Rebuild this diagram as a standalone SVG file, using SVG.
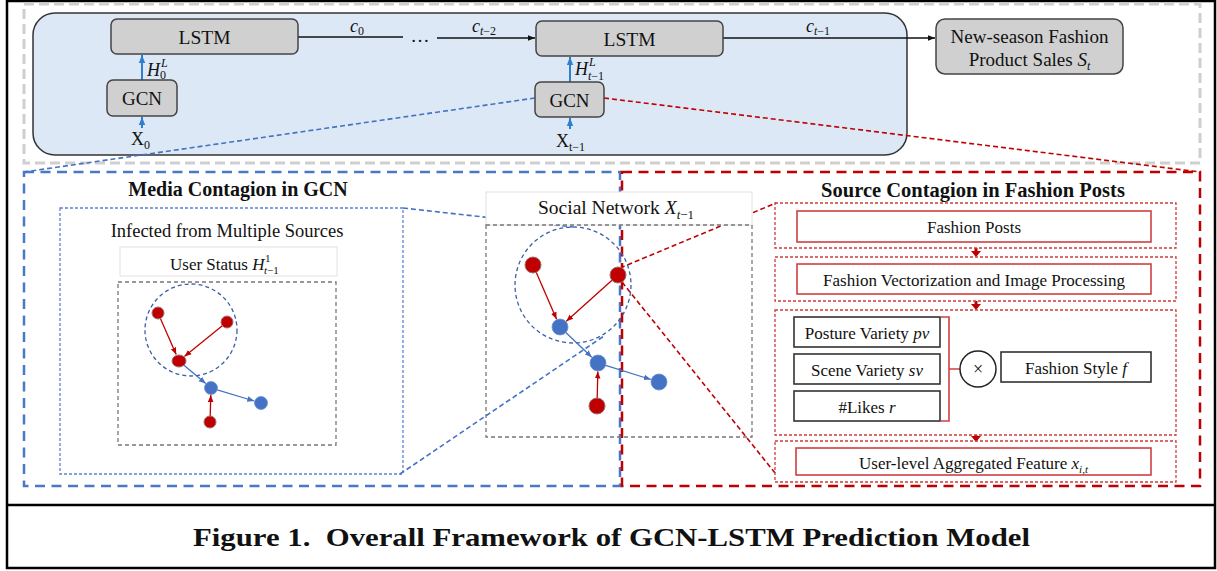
<svg xmlns="http://www.w3.org/2000/svg" width="1217" height="571" viewBox="0 0 1217 571">
  <defs>
    <style>
      .serif { font-family: "Liberation Serif", "Times New Roman", serif; fill: #111; }
      .math { font-family: "Liberation Serif", "Times New Roman", serif; font-style: italic; fill: #111; }
      .box { fill: #d0d0d0; stroke: #444; stroke-width: 1.5; }
      .frame { fill: none; stroke: #000; stroke-width: 2.5; }
      .gray-dash { fill: none; stroke: #cfcfcf; stroke-width: 3; stroke-dasharray: 10 5; }
      .blue-dash { fill: none; stroke: #4a78c8; stroke-width: 2.5; stroke-dasharray: 10 6.5; }
      .red-dash { fill: none; stroke: #c00000; stroke-width: 2.5; stroke-dasharray: 10 6.5; }
      .blue-dot { fill: none; stroke: #5b84cf; stroke-width: 1.3; stroke-dasharray: 3 2; }
      .red-dot { fill: none; stroke: #d03a3a; stroke-width: 1.3; stroke-dasharray: 3 2; }
      .blue-link { fill: none; stroke: #4472c4; stroke-width: 1.6; stroke-dasharray: 5 3; }
      .red-link { fill: none; stroke: #c00000; stroke-width: 1.6; stroke-dasharray: 5 3; }
      .net-box { fill: none; stroke: #777; stroke-width: 1.3; stroke-dasharray: 4 3; }
      .ring { fill: none; stroke: #3b5ea8; stroke-width: 1.3; stroke-dasharray: 4 3; }
      .red-node { fill: #c00000; stroke: #9a7070; stroke-width: 1; }
      .blue-node { fill: #4472c4; stroke: #6f8fcf; stroke-width: 0.8; }
      .red-edge { stroke: #c00000; stroke-width: 1.3; fill: none; }
      .blue-edge { stroke: #4472c4; stroke-width: 1.3; fill: none; }
      .flow { stroke: #111; stroke-width: 1.6; fill: none; }
      .up { stroke: #2f7fcf; stroke-width: 2; fill: none; }
      .red-box { fill: #fff; stroke: #d04040; stroke-width: 1.6; }
      .black-box { fill: #fff; stroke: #333; stroke-width: 1.6; }
      .light-box { fill: #fff; stroke: #e2e2e2; stroke-width: 1; }
    </style>
    <marker id="ah-black" viewBox="0 0 10 10" refX="10" refY="5" markerWidth="7" markerHeight="7" markerUnits="userSpaceOnUse" orient="auto">
      <path d="M0,1 L10,5 L0,9 z" fill="#111"/>
    </marker>
    <marker id="ah-up" viewBox="0 0 10 10" refX="10" refY="5" markerWidth="8" markerHeight="8" markerUnits="userSpaceOnUse" orient="auto">
      <path d="M0,1 L10,5 L0,9 z" fill="#2f7fcf"/>
    </marker>
    <marker id="ah-red" viewBox="0 0 10 10" refX="10" refY="5" markerWidth="7" markerHeight="7" markerUnits="userSpaceOnUse" orient="auto">
      <path d="M0,1 L10,5 L0,9 z" fill="#c00000"/>
    </marker>
    <marker id="ah-blue" viewBox="0 0 10 10" refX="10" refY="5" markerWidth="7" markerHeight="7" markerUnits="userSpaceOnUse" orient="auto">
      <path d="M0,1 L10,5 L0,9 z" fill="#4472c4"/>
    </marker>
  </defs>

  <rect width="1217" height="571" fill="#fff"/>

  <!-- outer frame and caption separator -->
  <g id="frame">
    <rect class="frame" x="7" y="1" width="1208" height="567"/>
    <line x1="7" y1="505" x2="1215" y2="505" stroke="#000" stroke-width="2.5"/>
  </g>

  <!-- temporal model band -->
  <g id="top-band">
    <rect class="gray-dash" x="24" y="4" width="1176" height="159"/>
    <rect x="33" y="13" width="874" height="142" rx="22" fill="#dce8f5" stroke="#333" stroke-width="1.5"/>
  </g>

  <!-- section frames -->
  <g id="media-section">
    <rect class="blue-dash" x="24" y="172" width="596" height="314"/>
    <text class="serif" x="238" y="196" font-size="20" font-weight="bold" text-anchor="middle">Media Contagion in GCN</text>
    <rect class="blue-dot" x="60" y="208" width="343" height="266"/>
    <text class="serif" x="227" y="237" font-size="18.5" text-anchor="middle">Infected from Multiple Sources</text>
  </g>
  <g id="source-section">
    <rect class="red-dash" x="622" y="172" width="578" height="314"/>
    <text class="serif" x="973" y="197" font-size="20.5" font-weight="bold" text-anchor="middle">Source Contagion in Fashion Posts</text>
  </g>

  <!-- connectors -->
  <g id="connectors">
    <!-- cell state chain -->
    <line class="flow" x1="298" y1="37" x2="403" y2="37"/>
    <text class="serif" x="420" y="42" font-size="19" text-anchor="middle">…</text>
    <line class="flow" x1="437" y1="38" x2="535" y2="38" marker-end="url(#ah-black)"/>
    <line class="flow" x1="723" y1="38" x2="935" y2="38" marker-end="url(#ah-black)"/>
    <!-- GCN to LSTM -->
    <line class="up" x1="142" y1="80" x2="142" y2="55" marker-end="url(#ah-up)"/>
    <line class="up" x1="142" y1="128" x2="142" y2="117" marker-end="url(#ah-up)"/>
    <line class="up" x1="570" y1="82" x2="570" y2="57" marker-end="url(#ah-up)"/>
    <line class="up" x1="570" y1="129" x2="570" y2="118" marker-end="url(#ah-up)"/>
    <!-- zoom-out links -->
    <line class="blue-link" x1="535" y1="98" x2="24" y2="172"/>
    <line class="red-link" x1="604" y1="98" x2="1200" y2="172"/>
    <line class="blue-link" x1="403" y1="208" x2="573" y2="227"/>
    <line class="blue-link" x1="400" y1="474" x2="604" y2="336"/>
    <line class="red-link" x1="620" y1="268" x2="776" y2="203"/>
    <line class="red-link" x1="622" y1="282" x2="775" y2="473"/>
    <!-- source pipeline steps -->
    <path d="M976,248 V252 M976,301 V305 M976,435 V437" stroke="#c00000" stroke-width="3"/>
    <polygon points="971,251 981,251 976,257" fill="#c00000"/>
    <polygon points="971,304 981,304 976,310" fill="#c00000"/>
    <polygon points="971,436 981,436 976,442" fill="#c00000"/>
    <!-- bracket into product -->
    <path d="M941,317 H949 V421 H941 M949,369 H960" stroke="#d04040" stroke-width="1.6" fill="none"/>
  </g>

  <!-- LSTM / GCN nodes -->
  <g id="lstm-0">
    <rect class="box" x="111" y="19" width="187" height="35" rx="6"/>
    <text class="serif" x="204.5" y="44" font-size="19.5" text-anchor="middle">LSTM</text>
  </g>
  <g id="gcn-0">
    <rect class="box" x="107" y="80" width="70" height="36" rx="6"/>
    <text class="serif" x="142" y="105" font-size="19" text-anchor="middle">GCN</text>
    <text class="math" x="147" y="76" font-size="18">H</text>
    <text class="math" x="161" y="67" font-size="12">L</text>
    <text class="serif" x="160" y="79" font-size="12">0</text>
    <text class="serif" x="131" y="145" font-size="18">X<tspan font-size="12" dy="4">0</tspan></text>
  </g>
  <g id="lstm-t">
    <rect class="box" x="536" y="21" width="187" height="35" rx="6"/>
    <text class="serif" x="629.5" y="46" font-size="19.5" text-anchor="middle">LSTM</text>
  </g>
  <g id="gcn-t">
    <rect class="box" x="535" y="82" width="69" height="35" rx="6"/>
    <text class="serif" x="569.5" y="107" font-size="19" text-anchor="middle">GCN</text>
    <text class="math" x="575" y="75" font-size="18">H</text>
    <text class="math" x="589" y="66" font-size="12">L</text>
    <text class="math" x="588" y="80" font-size="12">t<tspan font-style="normal">−1</tspan></text>
    <text class="serif" x="556" y="147" font-size="18">X<tspan font-size="12" dy="4">t−1</tspan></text>
  </g>
  <g id="labels-cell">
    <text class="math" x="350" y="32" font-size="18">c<tspan font-style="normal" font-size="12" dy="3">0</tspan></text>
    <text class="math" x="472" y="32" font-size="18">c<tspan font-size="12" dy="3">t</tspan><tspan font-style="normal" font-size="12">−2</tspan></text>
    <text class="math" x="806" y="32" font-size="18">c<tspan font-size="12" dy="3">t</tspan><tspan font-style="normal" font-size="12">−1</tspan></text>
  </g>
  <g id="sales">
    <rect class="box" x="936" y="19" width="187" height="55" rx="9"/>
    <text class="serif" x="1029.5" y="43" font-size="19" text-anchor="middle">New-season Fashion</text>
    <text class="serif" x="1029.5" y="66" font-size="19" text-anchor="middle">Product Sales <tspan font-style="italic">S</tspan><tspan font-style="italic" font-size="12" dy="4">t</tspan></text>
  </g>

  <!-- user status graph -->
  <g id="user-status">
    <rect class="light-box" x="120" y="247" width="217" height="29"/>
    <text class="serif" x="170" y="270" font-size="17">User Status <tspan font-style="italic">H</tspan></text>
    <text class="serif" x="265" y="262" font-size="11">1</text>
    <text class="math" x="264" y="274" font-size="11">t<tspan font-style="normal">−1</tspan></text>
    <rect class="net-box" x="118" y="282" width="218" height="163"/>
    <circle class="ring" cx="191" cy="330" r="46"/>
    <line class="red-edge" x1="160.4" y1="318.5" x2="176.2" y2="354.6" marker-end="url(#ah-red)"/>
    <line class="red-edge" x1="222.3" y1="325.8" x2="184.4" y2="356.6" marker-end="url(#ah-red)"/>
    <line class="blue-edge" x1="184" y1="365.2" x2="205.7" y2="383.5" marker-end="url(#ah-blue)"/>
    <line class="blue-edge" x1="217.2" y1="389.9" x2="254.3" y2="401" marker-end="url(#ah-blue)"/>
    <line class="red-edge" x1="210.2" y1="416" x2="210.8" y2="395" marker-end="url(#ah-red)"/>
    <circle class="red-node" cx="158" cy="313" r="6"/>
    <circle class="red-node" cx="227" cy="322" r="6"/>
    <ellipse class="red-node" cx="179" cy="361" rx="7" ry="6"/>
    <circle class="blue-node" cx="211" cy="388" r="6.5"/>
    <circle class="blue-node" cx="261" cy="403" r="6.5"/>
    <circle class="red-node" cx="210" cy="422" r="6"/>
  </g>

  <!-- social network graph -->
  <g id="social-network">
    <rect class="light-box" x="486" y="192" width="266" height="33"/>
    <text class="serif" x="538" y="214" font-size="19.5">Social Network <tspan font-style="italic">X</tspan><tspan font-style="italic" font-size="13" dy="5">t</tspan><tspan font-size="13">−1</tspan></text>
    <rect class="net-box" x="486" y="225" width="266" height="212"/>
    <circle class="ring" cx="573" cy="285" r="58"/>
    <line class="red-edge" x1="536.2" y1="272.3" x2="556.6" y2="319.2" marker-end="url(#ah-red)"/>
    <line class="red-edge" x1="612" y1="280.3" x2="566.3" y2="321.3" marker-end="url(#ah-red)"/>
    <line class="blue-edge" x1="565.8" y1="332.5" x2="591.8" y2="357.2" marker-end="url(#ah-blue)"/>
    <line class="blue-edge" x1="605.6" y1="365.4" x2="650.9" y2="379.5" marker-end="url(#ah-blue)"/>
    <line class="red-edge" x1="597.2" y1="398" x2="597.8" y2="371.5" marker-end="url(#ah-red)"/>
    <circle class="red-node" cx="533" cy="265" r="8"/>
    <circle class="red-node" cx="618" cy="275" r="8"/>
    <circle class="blue-node" cx="560" cy="327" r="8"/>
    <circle class="blue-node" cx="598" cy="363" r="8"/>
    <circle class="blue-node" cx="659" cy="382" r="8"/>
    <circle class="red-node" cx="597" cy="406" r="8"/>
  </g>

  <!-- source contagion pipeline -->
  <g id="fashion-posts">
    <rect class="red-dot" x="775" y="203" width="401" height="45"/>
    <rect class="red-box" x="797" y="211" width="354" height="31"/>
    <text class="serif" x="974" y="233" font-size="17" text-anchor="middle">Fashion Posts</text>
  </g>
  <g id="vectorization">
    <rect class="red-dot" x="775" y="257" width="401" height="44"/>
    <rect class="red-box" x="797" y="264" width="354" height="30"/>
    <text class="serif" x="974" y="286" font-size="17" text-anchor="middle">Fashion Vectorization and Image Processing</text>
  </g>
  <g id="features">
    <rect class="red-dot" x="775" y="310" width="401" height="125"/>
    <rect class="black-box" x="794" y="317" width="146" height="30"/>
    <text class="serif" x="867" y="339" font-size="17" text-anchor="middle">Posture Variety <tspan font-style="italic">pv</tspan></text>
    <rect class="black-box" x="794" y="354" width="146" height="30"/>
    <text class="serif" x="867" y="376" font-size="17" text-anchor="middle">Scene Variety <tspan font-style="italic">sv</tspan></text>
    <rect class="black-box" x="794" y="391" width="146" height="30"/>
    <text class="serif" x="867" y="413" font-size="17" text-anchor="middle">#Likes <tspan font-style="italic">r</tspan></text>
    <circle cx="978" cy="369" r="18" fill="#fff" stroke="#222" stroke-width="1.5"/>
    <text class="serif" x="978" y="375" font-size="18" text-anchor="middle">×</text>
    <rect class="black-box" x="1001" y="352" width="150" height="30"/>
    <text class="serif" x="1076" y="374" font-size="17" text-anchor="middle">Fashion Style <tspan font-style="italic">f</tspan></text>
  </g>
  <g id="aggregated">
    <rect class="red-dot" x="775" y="441" width="401" height="41"/>
    <rect class="red-box" x="796" y="448" width="355" height="27"/>
    <text class="serif" x="973.5" y="469" font-size="17" text-anchor="middle">User-level Aggregated Feature <tspan font-style="italic">x</tspan><tspan font-style="italic" font-size="11" dy="4">i,t</tspan></text>
  </g>

  <!-- caption -->
  <g id="caption">
    <text class="serif" x="193" y="546" font-size="25" font-weight="bold" textLength="837" lengthAdjust="spacingAndGlyphs">Figure 1.&#160; Overall Framework of GCN-LSTM Prediction Model</text>
  </g>
</svg>
